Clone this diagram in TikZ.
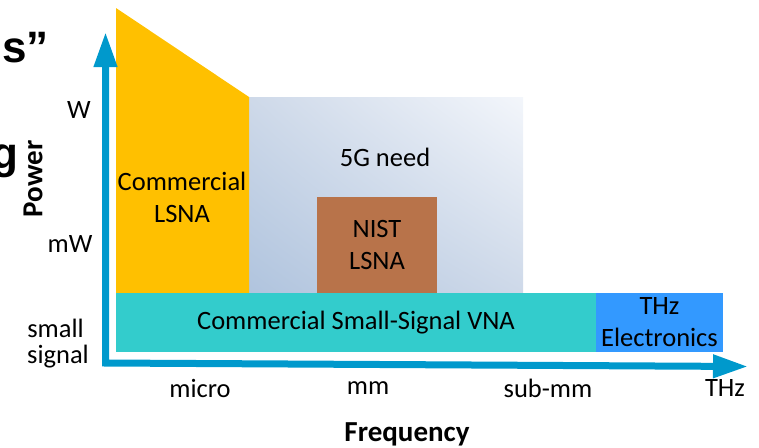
\documentclass[tikz,border=0pt]{standalone}
\usepackage{fontspec}
\setmainfont{Carlito}
\newfontfamily\titlefont{Liberation Sans}
\usetikzlibrary{arrows.meta,shadings}

\definecolor{axisblue}{RGB}{0,153,204}
\definecolor{lsnayellow}{RGB}{255,192,0}
\definecolor{nistbrown}{RGB}{184,115,74}
\definecolor{vnateal}{RGB}{51,204,204}
\definecolor{thzblue}{RGB}{51,153,255}
\definecolor{needdark}{RGB}{176,196,222}
\definecolor{needmid}{RGB}{206,217,233}
\definecolor{needlight}{RGB}{243,246,251}

\tikzset{
  txt/.style={font=\fontsize{26.5}{32}\selectfont, align=center, inner sep=0pt},
  bold/.style={txt, font=\fontsize{29}{32}\selectfont\bfseries},
  band/.style={txt, minimum height=59pt},
  axis/.style={draw=axisblue, line width=7pt, line join=miter,
    {Triangle[length=35pt,width=22pt]}-{Triangle[length=35pt,width=22pt]}},
  cut/.style={font=\titlefont\bfseries\fontsize{44}{44}\selectfont, inner sep=0pt, anchor=base east}
}

\begin{document}
\begin{tikzpicture}[x=1pt,y=-1pt]
    \useasboundingbox (0,0) rectangle (759,447);
    \clip (0,0) rectangle (759,447);

    % draw cut-off title letters
    \node[cut] (tail1) at (49,62) {s”};
    \node[cut] (tail2) at (19,168) {g};

    % draw 5G need region
    \shade[upper left=needmid, upper right=needlight, lower left=needdark, lower right=needmid]
      (249,97) rectangle (523,293);
    \node[txt] (need) at (385,157) {5G need};

    % draw commercial LSNA
    \fill[lsnayellow] (116,8) -- (249,97) -- (249,293) -- (116,293) -- cycle;
    \node[txt] (lsna) at (182,197) {Commercial\\LSNA};

    % draw NIST LSNA
    \node[txt, fill=nistbrown, minimum width=120pt, minimum height=96pt] (nist) at (377,245) {NIST\\LSNA};

    % draw bands
    \node[band, fill=vnateal, minimum width=480pt] (vna) at (356,322.5) {Commercial Small-Signal VNA};
    \node[band, fill=thzblue, minimum width=127pt] (thz) at (659.5,322.5) {THz\\Electronics};

    % draw axes
    \coordinate (origin) at (105.5,363);
    \coordinate (ptip) at (105.5,32);
    \coordinate (ftip) at (748,366.5);
    \draw[axis] (ptip) -- (origin) -- (ftip);

    % draw power labels
    \node[txt] (pw) at (79,110) {W};
    \node[txt] (pmw) at (70,244) {mW};
    \node[txt] (psmall) at (55.5,328) {small};
    \node[txt] (psignal) at (58,357) {signal};
    \node[bold, rotate=90] (power) at (33,179) {Power};

    % draw frequency labels
    \foreach \x/\lab [count=\i] in {200/micro, 368/mm, 548/sub-mm, 725/THz}
      \node[txt] (f\i) at (\x,388) {\lab};
    \node[bold] (freq) at (407,434) {Frequency};

\end{tikzpicture}
\end{document}
